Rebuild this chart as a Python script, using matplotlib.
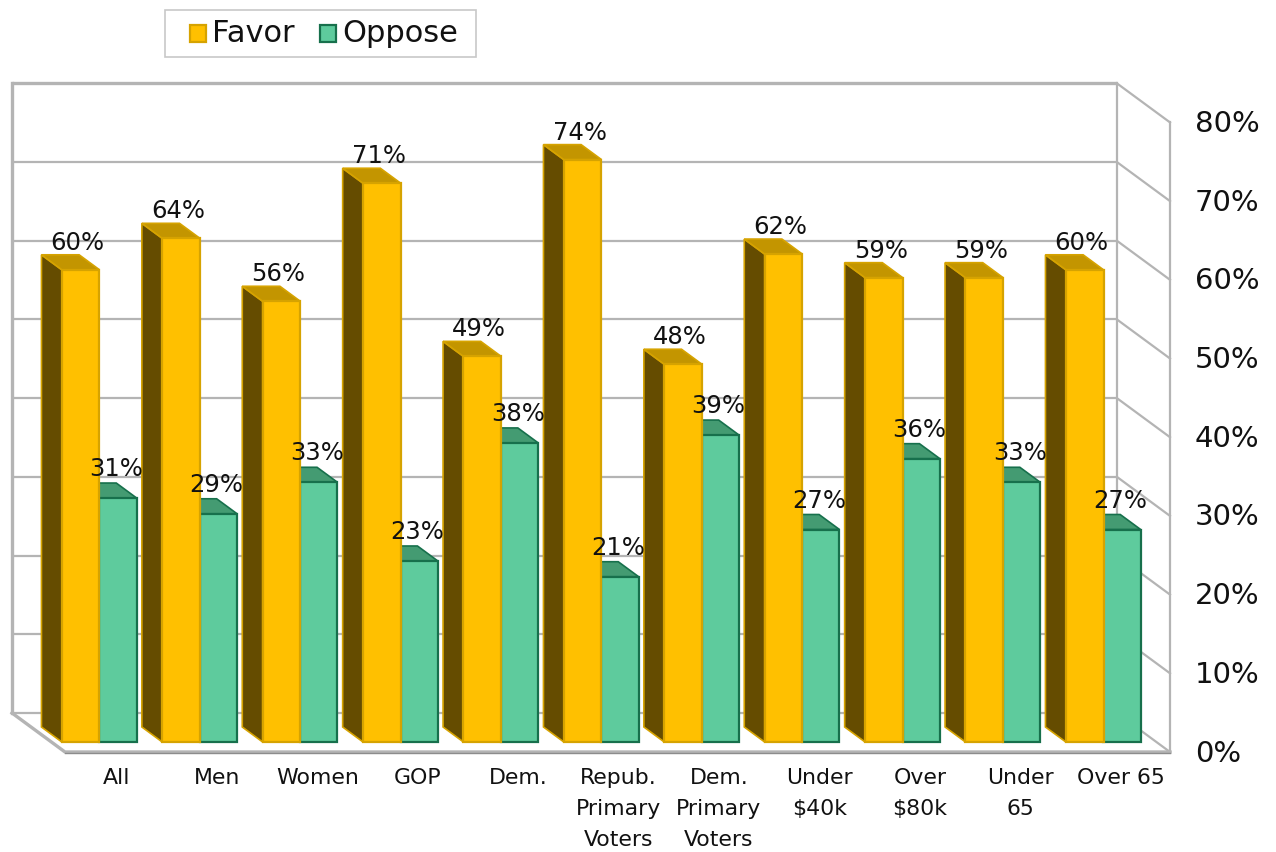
import matplotlib
matplotlib.use("Agg")
import matplotlib.pyplot as plt
from matplotlib.patches import Rectangle
import numpy as np

plt.rcParams['font.family'] = ['DejaVu Sans']

categories = ["All", "Men", "Women", "GOP", "Dem.", "Repub.\nPrimary\nVoters",
              "Dem.\nPrimary\nVoters", "Under\n$40k", "Over\n$80k", "Under\n65", "Over 65"]
favor = [60, 64, 56, 71, 49, 74, 48, 62, 59, 59, 60]
oppose = [31, 29, 33, 23, 38, 21, 39, 27, 36, 33, 27]
y_ticks = [0, 10, 20, 30, 40, 50, 60, 70, 80]
series_names = ["Favor", "Oppose"]

W, H = 1276, 852
fig = plt.figure(figsize=(W / 100, H / 100), dpi=100)
ax = fig.add_axes([0, 0, 1, 1])
ax.set_axis_off()

# pixel scale of the front plane
XPX = 100.4   # px per category
YPX = 7.87    # px per percent
X0PX = 99.5   # pixel x of category 0 center
Y0PX = 742    # pixel y of 0 %
ax.set_xlim((0 - X0PX) / XPX, (W - X0PX) / XPX)
ax.set_ylim((Y0PX - H) / YPX, (Y0PX - 0) / YPX)

# oblique depth direction (t measured in pixels upward)
DX = -(53 / 39) / XPX
DY = 1 / YPX


def proj(x, y, t):
    return x + DX * t, y + DY * t


grid_c = "#B4B4B4"
T_BACK, T_FRONT = 29, -10
XL = (51.4 - X0PX) / XPX
XR = (1156.4 - X0PX) / XPX
ymax = y_ticks[-1]

# back wall gridlines
for v in y_ticks:
    a = proj(XL, v, T_BACK)
    b = proj(XR, v, T_BACK)
    ax.plot([a[0], b[0]], [a[1], b[1]], color=grid_c, lw=2.4 if v == ymax else 1.6, zorder=1,
            solid_capstyle='butt')
    c = proj(XR, v, T_FRONT)
    ax.plot([b[0], c[0]], [b[1], c[1]], color=grid_c, lw=1.6, zorder=1)
# wall verticals
for (x, t, lw) in [(XL, T_BACK, 2.4), (XR, T_BACK, 1.6), (XR, T_FRONT, 1.6)]:
    a = proj(x, 0, t)
    b = proj(x, ymax, t)
    ax.plot([a[0], b[0]], [a[1], b[1]], color=grid_c, lw=lw, zorder=1)
# floor edges
a = proj(XL, 0, T_BACK)
b = proj(XL, 0, T_FRONT)
c = proj(XR, 0, T_FRONT)
ax.plot([a[0], b[0], c[0]], [a[1], b[1], c[1]], color=grid_c, lw=2.4, zorder=1)
ax.plot([b[0], c[0]], [b[1] - 0.15, c[1] - 0.15], color="#8C8C8C", lw=1.0, zorder=1)

# bars
BW_F = 0.375
BW_O = 0.37
TB = 15  # bar depth in px

fav_front, fav_side, fav_top, fav_edge = "#FFC000", "#654C00", "#C39500", "#D6A300"
opp_front, opp_top, opp_edge = "#5ECB9D", "#449B72", "#17704C"

idx = np.arange(len(categories))
z = 2
for i in idx:
    fv, ov = favor[i], oppose[i]
    # oppose bar: top then front
    x0, x1 = i, i + BW_O
    pts = [proj(x0, ov, 0), proj(x1, ov, 0), proj(x1, ov, TB), proj(x0, ov, TB)]
    ax.fill([p[0] for p in pts], [p[1] for p in pts], facecolor=opp_top, edgecolor=opp_edge,
            lw=1.2, zorder=z)
    ax.bar(x0, ov, width=BW_O, align='edge', color=opp_front, edgecolor=opp_edge, lw=1.6, zorder=z + 1)
    # favor bar: side, top, front
    x0, x1 = i - BW_F, i
    pts = [proj(x0, 0, 0), proj(x0, fv, 0), proj(x0, fv, TB), proj(x0, 0, TB)]
    ax.fill([p[0] for p in pts], [p[1] for p in pts], facecolor=fav_side, edgecolor=fav_edge,
            lw=1.2, zorder=z + 2)
    pts = [proj(x0, fv, 0), proj(x1, fv, 0), proj(x1, fv, TB), proj(x0, fv, TB)]
    ax.fill([p[0] for p in pts], [p[1] for p in pts], facecolor=fav_top, edgecolor=fav_edge,
            lw=1.2, zorder=z + 2)
    ax.bar(x0, fv, width=BW_F, align='edge', color=fav_front, edgecolor=fav_edge, lw=1.6, zorder=z + 3)
    z += 4

# data labels
for i in idx:
    ax.text(i - BW_F / 2 - 0.03, favor[i] + 27 / YPX, f"{favor[i]}%", ha='center', va='center',
            fontsize=17.5, color="#111111", zorder=200)
    ax.text(i + BW_O / 2 - 0.02, oppose[i] + 29 / YPX, f"{oppose[i]}%", ha='center', va='center',
            fontsize=17.5, color="#111111", zorder=200)

# category labels
for i in idx:
    ax.text(i + 0.17, -26 / YPX, categories[i], ha='center', va='top', fontsize=15.8,
            linespacing=1.68, color="#111111")

# right tick labels
for v in y_ticks:
    x, y = proj(XR, v, T_FRONT)
    ax.text(x + 25 / XPX, y - 1.5 / YPX, f"{v}%", ha='left', va='center', fontsize=21, color="#111111")

# legend (drawn manually in figure pixel coordinates)
def fx(px):
    return px / W


def fy(py):
    return 1 - py / H


fig.add_artist(Rectangle((fx(165), fy(57)), fx(476) - fx(165), fy(10) - fy(57),
                         transform=fig.transFigure, facecolor="white", edgecolor="#C8C8C8", lw=1.2))
leg_items = [(series_names[0], fav_front, fav_edge, 190), (series_names[1], opp_front, opp_edge, 320)]
for name, fc, ec, px in leg_items:
    fig.add_artist(Rectangle((fx(px), fy(42)), fx(16), 17 / H, transform=fig.transFigure,
                             facecolor=fc, edgecolor=ec, lw=1.6))
    fig.text(fx(px + 22), fy(34), name, ha='left', va='center', fontsize=22, color="#111111")

fig.savefig("out.png", dpi=100)
